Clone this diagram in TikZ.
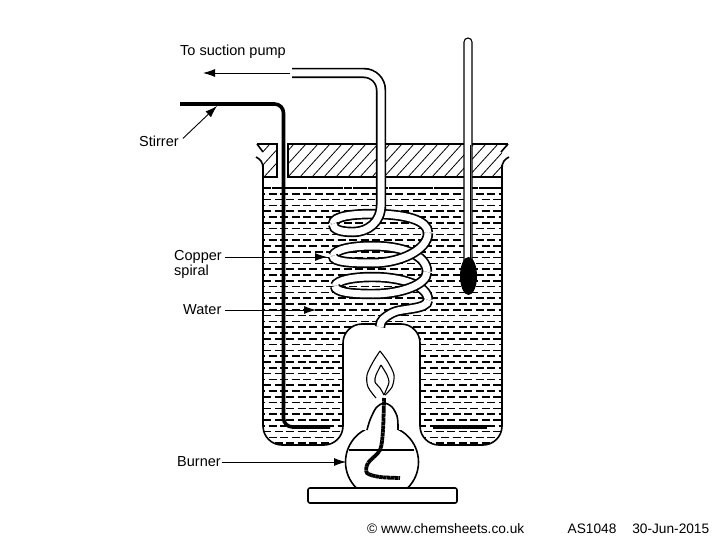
\documentclass[tikz,border=0pt]{standalone}
\usepackage{fontspec}
\setmainfont{Liberation Sans}
\usepackage{tikz}
\usetikzlibrary{arrows.meta,positioning}

\newcommand{\beakerpath}{[rounded corners=19pt] (263,165) -- (263,445) -- (343,445) -- (343,324) -- (420,324) -- (420,445) -- (502,445) -- (502,165)}

\begin{document}
\begin{tikzpicture}[
        x=1pt, y=-1pt,
        font=\fontsize{14.5}{15}\selectfont,
        label/.style={inner sep=0pt, align=left},
        foot/.style={inner sep=0pt, font=\fontsize{13.7}{15}\selectfont},
        arr/.style={-{Latex[length=12pt,width=8pt]}, line width=0.9pt},
        wall/.style={line width=1.6pt},
        thin line/.style={line width=1.1pt},
        pipe/.style={line width=1.7pt, double=white, double distance=7pt},
        rod/.style={line width=3.6pt},
        wick/.style={line width=3.8pt, dash pattern=on 3.5pt off 0.4pt},
        hatchline/.style={line width=0.8pt}
    ]
        \useasboundingbox (0,0) rectangle (720,540);

        \begin{scope}
            \clip \beakerpath -- cycle;
            \foreach \r in {0,...,44} {
                \pgfmathsetmacro{\rowy}{188+5.8*\r}
                \pgfmathsetmacro{\rowoff}{mod(\r,2)*6}
                \draw[line width=1.5pt, dash pattern=on 8pt off 3.5pt, dash phase=\rowoff pt] (263,\rowy) -- (503,\rowy);
            }
            \draw[line width=2.4pt, dash pattern=on 8pt off 1pt] (263,188) -- (503,188);
        \end{scope}
        \draw[wall] \beakerpath;

        \draw[rod, rounded corners=9pt] (180,104) -- (283.5,104) -- (283.5,427) -- (330,427);
        \draw[rod] (433,427) -- (487,427);

        \begin{scope}
            \clip (263,144) rectangle (277,177) (288,144) rectangle (502,177);
            \foreach \h in {0,...,24} {
                \draw[hatchline] (240+12*\h,177) -- (270+12*\h,144);
            }
        \end{scope}
        \draw[wall] (257,144) -- (277,144) -- (277,177) -- (263,177);
        \draw[wall] (502,144) -- (288,144) -- (288,177) -- (502,177);
        \draw[wall] (502,144) -- (508,144);
        \draw[wall] (257,144) -- (263,152) (508,144) -- (501,152);
        \draw[wall] (263,168) .. controls (263,162) and (260,159) .. (256,157);
        \draw[wall] (502,168) .. controls (502,162) and (505,159) .. (509,157);

        \draw[pipe] (335,286) .. controls (337,280) and (353,277) .. (373,277) .. controls (400,277) and (428,285) .. (428,300);
        \draw[pipe] (333,256) .. controls (335,249) and (353,246) .. (373,246) .. controls (400,246) and (427,254) .. (427,272);
        \draw[pipe] (333,224) .. controls (333,216) and (353,214) .. (373,214) .. controls (405,214) and (428,220) .. (428,233);
        \draw[pipe] (428,300) .. controls (428,310) and (400,308) .. (392,313) .. controls (385,317) and (380,320) .. (380,327);
        \draw[pipe] (427,272) .. controls (427,285) and (400,294) .. (373,294) .. controls (350,294) and (335,292) .. (335,286);
        \draw[pipe] (428,233) .. controls (428,250) and (400,263) .. (373,263) .. controls (350,263) and (333,262) .. (333,256);
        \draw[pipe] [rounded corners=17pt] (292,73) -- (381,73) -- (381,190) [sharp corners] -- (381,205) .. controls (381,222) and (368,232) .. (353,232) .. controls (342,232) and (333,230) .. (333,224);

        \draw[fill=white, line width=1.1pt, rounded corners=4pt] (464,262) -- (464,38) -- (472,38) -- (472,262);
        \draw[line width=1.8pt] (470.5,145) -- (470.5,260);
        \fill (468.5,276) ellipse [x radius=8.5, y radius=19];

        \draw[wall, rounded corners=2pt] (308,488) rectangle (457,503);
        \begin{scope}
            \clip (340,430) rectangle (425,488);
            \draw[wall] (382,462) circle [radius=36.5];
        \end{scope}
        \draw[wall] plot[smooth] coordinates {(367,430) (370,420) (376,408) (384,403) (392,407) (397,416) (398,425) (398,430)};
        \draw[thin line] (349,450) -- (414,450);
        \draw[wick] plot[smooth] coordinates {(384,398) (383,430) (380,450) (368,463) (367,473) (380,477) (400,478)};
        \draw[thin line] plot[smooth] coordinates {(376,398) (368,387) (367,375) (373,362) (380,351)};
        \draw[thin line] plot[smooth] coordinates {(380,351) (388,362) (394,375) (392,387) (385,395)};
        \draw[thin line] plot[smooth] coordinates {(381,365) (376,375) (375,382) (380,388) (384,395)};
        \draw[thin line] plot[smooth] coordinates {(381,365) (387,375) (389,382) (387,388) (384,395)};

        \coordinate (pumpend) at (290,73);
        \coordinate (pumptip) at (203,73);
        \coordinate (stirtip) at (217,106);
        \coordinate (coiltip) at (327,257);
        \coordinate (watertip) at (316,310);
        \coordinate (burntip) at (346,462);

        \node[label, anchor=west] (pump) at (180,52) {To suction pump};
        \node[label, anchor=west] (stir) at (139,141) {Stirrer};
        \node[label, anchor=west] (copper) at (174,264) {Copper\\spiral};
        \node[label, anchor=west] (water) at (183,310) {Water};
        \node[label, anchor=west] (burner) at (177,462) {Burner};

        \draw[arr] (pumpend) -- (pumptip);
        \draw[arr] (stir.north east) ++(4,3) -- (stirtip);
        \draw[arr] (copper.east |- coiltip) ++(3,0) -- (coiltip);
        \draw[arr] (water) ++(23,0) -- (watertip);
        \draw[arr] (burner) ++(23,0) -- (burntip);

        \node[foot, anchor=west] (site) at (367,529) {© www.chemsheets.co.uk};
        \node[foot, right=43pt of site] (code) {AS1048};
        \node[foot, right=15.5pt of code] (date) {30-Jun-2015};
    \end{tikzpicture}
\end{document}
